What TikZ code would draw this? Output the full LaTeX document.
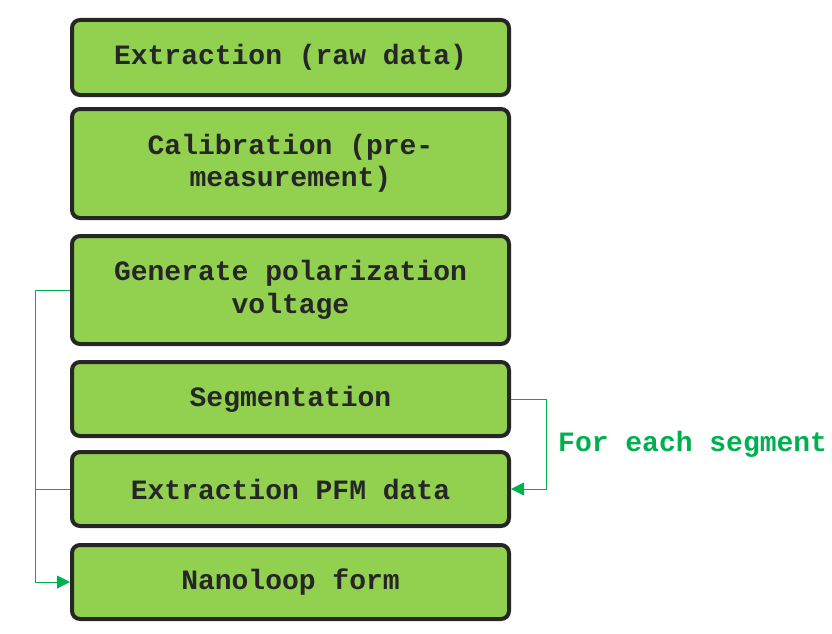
\documentclass[tikz,border=0pt]{standalone}
\usepackage{fontspec}
\setmonofont{Liberation Mono}
\usetikzlibrary{positioning,arrows.meta}

\definecolor{boxfill}{HTML}{92D050}
\definecolor{boxline}{HTML}{262626}
\definecolor{loopgreen}{HTML}{00B050}

\begin{document}
\begin{tikzpicture}[x=1pt, y=-1pt,
  stage/.style={draw=boxline, fill=boxfill, line width=4pt, rounded corners=8pt,
    minimum width=437pt, minimum height=74pt, align=center, text=boxline,
    font=\fontsize{28}{32.5}\selectfont\ttfamily\bfseries},
  loopline/.style={draw=loopgreen, line width=1pt},
  looptip/.style={-{Triangle[length=13pt,width=13pt]}}]
\useasboundingbox (0,0) rectangle (832,634);

% stages
\node[stage, minimum height=75pt] (rawx) at (290.5,57.5) {Extraction (raw data)};
\node[stage, minimum height=109pt, below=10pt of rawx] (calib) {Calibration (pre-\\measurement)};
\node[stage, minimum height=108pt, below=14pt of calib] (polv) {Generate polarization\\voltage};
\node[stage, below=14pt of polv] (segm) {Segmentation};
\node[stage, below=12pt of segm] (pfmx) {Extraction PFM data};
\node[stage, below=15pt of pfmx] (nano) {Nanoloop form};

% loops
\draw[loopline, looptip] (polv.west) -- ++(-35,0) coordinate (lbend) |- (nano.west);
\draw[loopline] (pfmx.west) -- (pfmx.west -| lbend);
\draw[loopline, looptip] (segm.east) -- ++(35,0) coordinate (rbend) |- (pfmx.east);
\node[anchor=west, inner sep=0pt, text=loopgreen,
  font=\fontsize{28}{32.5}\selectfont\ttfamily\bfseries] (each)
  at ([xshift=12pt, yshift=-45pt]rbend) {For each segment};
\end{tikzpicture}
\end{document}
